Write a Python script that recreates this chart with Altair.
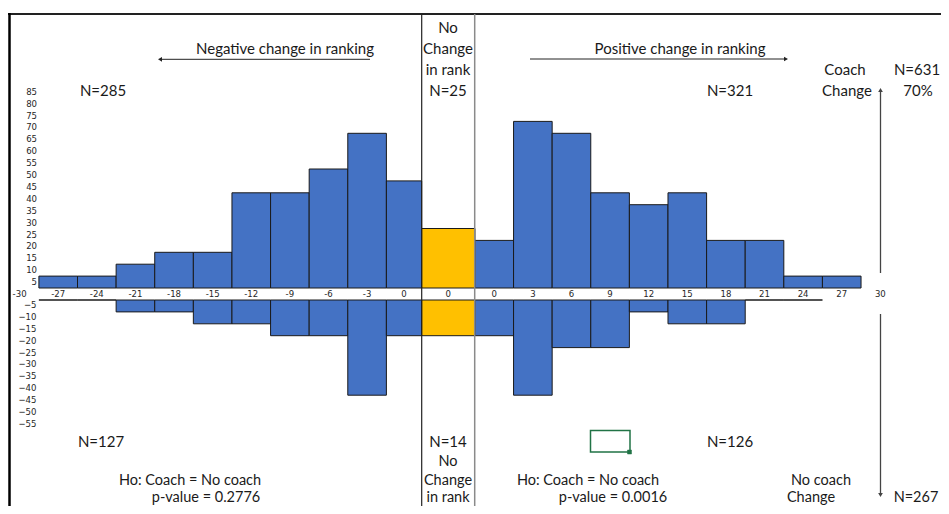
import altair as alt
import pandas as pd

# ---------------- data ----------------
left_bins = ["-27", "-24", "-21", "-18", "-15", "-12", "-9", "-6", "-3", "0"]
left_coach = [5, 5, 10, 15, 15, 40, 40, 50, 65, 45]        # upper (coach change)
left_nocoach = [0, 0, 5, 5, 10, 10, 15, 15, 40, 15]        # lower (no coach change)
mid_bin = "0"
mid_coach = 25
mid_nocoach = 15
right_bins = ["0", "3", "6", "9", "12", "15", "18", "21", "24", "27"]
right_coach = [20, 70, 65, 40, 35, 40, 20, 20, 5, 5]
right_nocoach = [15, 40, 20, 20, 5, 10, 10, 0, 0, None]
upper_ticks = list(range(5, 90, 5))
lower_ticks = list(range(-5, -60, -5))
end_ticks = ["-30", "30"]

# ---------------- layout ----------------
W, H = 933, 498
PX = 12.87          # px per rank unit
X0 = 397.7          # chart px of rank 0
SHIFT = 6.88        # right block offset (rank units)
DIV = 1.24          # divider (black line) position
MIDR = 5.38         # right edge of "no change" bin
BASE = 280.0        # chart px of upper baseline
PY = 2.38           # px per count
GAP = 12 / PY       # gap between upper and lower baselines

XS = alt.Scale(domain=[-X0 / PX, (W - X0) / PX], nice=False, zero=False)
YS = alt.Scale(domain=[-(H - BASE) / PY, BASE / PY], nice=False, zero=False)

rows = []
for lab, up, dn in zip(left_bins, left_coach, left_nocoach):
    c = int(lab)
    x1, x2 = c - 1.5, min(c + 1.5, DIV)
    rows.append(dict(lab=lab, x=x1, x2=x2, xc=(x1 + x2) / 2, up=up, dn=dn, grp="side"))
rows.append(dict(lab=mid_bin, x=DIV, x2=MIDR, xc=(DIV + MIDR) / 2, up=mid_coach, dn=mid_nocoach, grp="mid"))
for lab, up, dn in zip(right_bins, right_coach, right_nocoach):
    c = int(lab) + SHIFT
    rows.append(dict(lab=lab, x=c - 1.5, x2=c + 1.5, xc=c, up=up, dn=dn, grp="side"))
df = pd.DataFrame(rows)
df["y0"] = 0.0
df["yb"] = -GAP / 2
df["yl0"] = -GAP
df_dn = df.dropna(subset=["dn"]).copy()
df_dn["yl1"] = -GAP - df_dn["dn"]
df_up = df.drop(columns=["dn"])

color = alt.Color("grp:N", scale=alt.Scale(domain=["side", "mid"], range=["#4472C4", "#FFC000"]), legend=None)

upper = alt.Chart(df_up).mark_rect(stroke="#1a1a1a", strokeWidth=1).encode(
    x=alt.X("x:Q", scale=XS, axis=None), x2="x2:Q",
    y=alt.Y("y0:Q", scale=YS, axis=None), y2="up:Q",
    color=color,
)
lower = alt.Chart(df_dn).mark_rect(stroke="#1a1a1a", strokeWidth=1).encode(
    x=alt.X("x:Q", scale=XS, axis=None), x2="x2:Q",
    y=alt.Y("yl0:Q", scale=YS, axis=None), y2="yl1:Q",
    color=color,
)

TICKFONT = "DejaVu Sans Condensed, DejaVu Sans, sans-serif"
TFS = 9.5
TCOL = "#262626"
bin_labels = alt.Chart(df_up).mark_text(font=TICKFONT, fontSize=TFS, color=TCOL, baseline="middle").encode(
    x=alt.X("xc:Q", scale=XS, axis=None),
    y=alt.Y("yb:Q", scale=YS, axis=None),
    text="lab:N",
)
ends = pd.DataFrame({"lab": end_ticks, "xc": [int(end_ticks[0]), int(end_ticks[1]) + SHIFT],
                     "yb": [-GAP / 2, -GAP / 2]})
end_labels = alt.Chart(ends).mark_text(font=TICKFONT, fontSize=TFS, color=TCOL, baseline="middle").encode(
    x=alt.X("xc:Q", scale=XS, axis=None),
    y=alt.Y("yb:Q", scale=YS, axis=None),
    text="lab:N",
)
up_df = pd.DataFrame({"v": upper_ticks})
up_labels = alt.Chart(up_df).mark_text(font=TICKFONT, fontSize=TFS, color=TCOL, align="right",
                                       baseline="middle", dy=6).encode(
    x=alt.value(29), y=alt.Y("v:Q", scale=YS, axis=None), text="v:Q")
lo_df = pd.DataFrame({"v": lower_ticks})
lo_df["pos"] = lo_df["v"] - GAP
lo_labels = alt.Chart(lo_df).mark_text(font=TICKFONT, fontSize=TFS, color=TCOL, align="right",
                                       baseline="middle", dy=-7).encode(
    x=alt.value(28.5), y=alt.Y("pos:Q", scale=YS, axis=None), text="v:Q")

one = pd.DataFrame({"a": [0]})
FONT = "Lato, Open Sans, sans-serif"


def txt(s, x, y, size=15, align="center"):
    return alt.Chart(one).mark_text(text=s, font=FONT, fontSize=size, align=align, baseline="middle",
                                    dy=1.5, color="#1a1a1a").encode(x=alt.value(x - 8), y=alt.value(y - 8))


def hline(x1, x2, y, color="#222222", w=1.0):
    return alt.Chart(one).mark_rule(color=color, strokeWidth=w).encode(
        x=alt.value(x1 - 8), x2=alt.value(x2 - 8), y=alt.value(y - 8))


def vline(x, y1, y2, color="#222222", w=1.0):
    return alt.Chart(one).mark_rule(color=color, strokeWidth=w).encode(
        x=alt.value(x - 8), y=alt.value(y1 - 8), y2=alt.value(y2 - 8))


def head(x, y, shape, color="#222222"):
    return alt.Chart(one).mark_point(shape=shape, filled=True, size=22, color=color, opacity=1).encode(
        x=alt.value(x - 8), y=alt.value(y - 8))


def box(x1, y1, x2, y2, stroke, w=1.5, fill=None):
    kw = dict(stroke=stroke, strokeWidth=w, fillOpacity=0 if fill is None else 1)
    if fill is not None:
        kw["fill"] = fill
    return alt.Chart(one).mark_rect(**kw).encode(
        x=alt.value(x1 - 8), x2=alt.value(x2 - 8), y=alt.value(y1 - 8), y2=alt.value(y2 - 8))


annots = [
    # frame
    hline(8, 949, 14, "#222222", 2),
    vline(9.5, 13, 514, "#000000", 2.5),
    # dividers
    vline(421.7, 14, 514, "#222222", 1.2),
    vline(474.7, 14, 514, "#8a8a8a", 1.5),
    # header arrows
    hline(160, 370, 59.3, "#222222", 1),
    head(160, 59.3, "triangle-left"),
    hline(530, 786, 59, "#222222", 1),
    head(786, 59, "triangle-right"),
    # right vertical arrows
    vline(880.5, 90, 273, "#444444", 1.3),
    head(880.5, 90, "triangle-up", "#444444"),
    vline(880.5, 314, 495, "#444444", 1.3),
    head(880.5, 495, "triangle-down", "#444444"),
    # excel cell selection
    box(590.5, 430.5, 630, 452, "#217346", 1.5),
    box(627.5, 450, 631.5, 454, "#217346", 0.5, "#217346"),
    # texts top
    txt("Negative change in ranking", 285, 47),
    txt("Positive change in ranking", 680, 47),
    txt("No", 448, 26), txt("Change", 448, 47), txt("in rank", 448, 68), txt("N=25", 448, 89),
    txt("N=285", 103, 89), txt("N=321", 730, 89),
    txt("Coach", 845, 68), txt("N=631", 917, 68),
    txt("Change", 847, 89), txt("70%", 918, 89),
    # texts bottom
    txt("N=127", 101, 440), txt("N=14", 448, 440), txt("N=126", 730, 440),
    txt("No", 448, 460, 14.5), txt("Change", 448, 479, 14.5), txt("in rank", 448, 496, 14.5),
    txt("Ho: Coach = No coach", 190, 479, 14.5), txt("p-value = 0.2776", 206, 496, 14.5),
    txt("Ho: Coach = No coach", 588, 479, 14.5), txt("p-value = 0.0016", 613, 496, 14.5),
    txt("No coach", 821, 479, 14.5), txt("Change", 811, 496, 14.5), txt("N=267", 916, 496, 14.5),
]

chart = alt.layer(upper, lower, bin_labels, end_labels, up_labels, lo_labels, *annots).properties(
    width=W, height=H, autosize=alt.AutoSizeParams(type="none"), padding=0, background="white"
).configure_view(stroke=None)

chart.save("out.html", embed_options={"renderer": "svg", "actions": False})
